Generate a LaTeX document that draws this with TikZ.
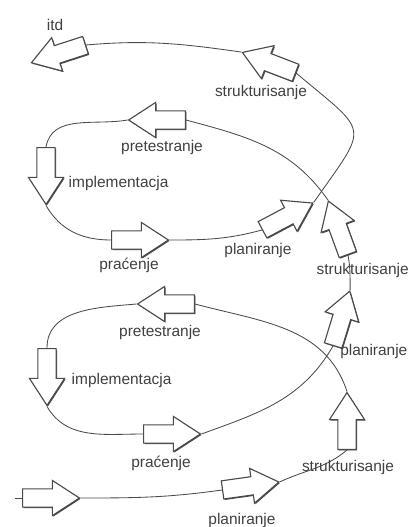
\documentclass[tikz,border=0pt]{standalone}
\usepackage{fontspec}
\setmainfont{Liberation Sans}
\usepackage{tikz}
\usetikzlibrary{positioning}
\usetikzlibrary{shapes.arrows, shadows}
\definecolor{linegray}{HTML}{4A4A4A}
\tikzstyle{blockarrow} = [single arrow, draw=linegray, fill=white, line width=0.8pt, minimum width=0pt, minimum height=0pt, inner xsep=0.52cm, inner ysep=0.215cm, single arrow head extend=0.21cm, single arrow tip angle=66, anchor=tail, drop shadow={shadow xshift=0.7pt, shadow yshift=-0.7pt, fill=linegray, opacity=1}]
\tikzstyle{steplabel} = [text=black!75, font=\fontsize{11}{13}\selectfont, inner sep=1pt]
\tikzstyle{curve} = [draw=linegray, line width=0.6pt]

\begin{document}
\begin{tikzpicture}[x=0.025cm, y=-0.025cm]
\useasboundingbox (0,0) rectangle (408,527);

\node (start) [blockarrow] at (22,498) {};
\node (plan1) [blockarrow, rotate=8] at (222,490) {};
\node (strk1) [blockarrow, rotate=90] at (347,450) {};
\node (pret1) [blockarrow, rotate=180] at (195,304) {};
\node (impl1) [blockarrow, rotate=270] at (47,348) {};
\node (prac1) [blockarrow] at (143,434) {};
\node (plan2) [blockarrow, rotate=73] at (333,346) {};
\node (strk2) [blockarrow, rotate=110] at (348,255) {};
\node (pret2) [blockarrow, rotate=180] at (186,120) {};
\node (impl2) [blockarrow, rotate=270] at (46,147) {};
\node (prac2) [blockarrow] at (111,240) {};
\node (plan3) [blockarrow, rotate=28] at (262,230) {};
\node (strk3) [blockarrow, rotate=159] at (296,73) {};
\node (itd) [blockarrow, rotate=198] at (86,45) {};

\node (itdlbl) [steplabel] at (55,25) {itd};
\node (strk3lbl) [steplabel] at (261,92) {strukturisanje};
\node (pret2lbl) [steplabel] at (162,147) {pretestranje};
\node (impl2lbl) [steplabel, anchor=west] at (67,183) {implementacja};
\node (prac2lbl) [steplabel] at (129,265) {praćenje};
\node (plan3lbl) [steplabel] at (258,250) {planiranje};
\node (strk2lbl) [steplabel, anchor=west] at (315,270) {strukturisanje};
\node (plan2lbl) [steplabel, anchor=west, inner sep=0pt] at (340,351) {planiranje};
\node (pret1lbl) [steplabel] at (160,332) {pretestranje};
\node (impl1lbl) [steplabel, anchor=west] at (70,380) {implementacja};
\node (prac1lbl) [steplabel] at (161,463) {praćenje};
\node (strk1lbl) [steplabel] at (348,467) {strukturisanje};
\node (plan1lbl) [steplabel] at (242,520) {planiranje};

\coordinate (entry) at (15,498);
\draw [curve] (entry) -- (start.tail);
\draw [curve] (start.tip) to[out=0,in=188] (plan1.tail);
\draw [curve] (plan1.tip) to[out=25,in=220] (strk1.tail);
\draw [curve] (strk1.tip) to[out=108,in=-15] (pret1.tail);
\draw [curve] (pret1.tip) to[out=185,in=90] (impl1.tail);
\draw [curve] (impl1.tip) to[out=-60,in=180] (prac1.tail);
\draw [curve] (prac1.tip) to[out=20,in=240] (plan2.tail);
\draw [curve] (plan2.tip) to[out=90,in=-80] (strk2.tail);
\draw [curve] (strk2.tip) to[out=125,in=-15] (pret2.tail);
\draw [curve] (pret2.tip) to[out=190,in=80] (impl2.tail);
\draw [curve] (impl2.tip) to[out=-60,in=180] (prac2.tail);
\draw [curve] (prac2.tip) to[out=0,in=195] (plan3.tail);
\draw [curve] (plan3.tip) to[out=55,in=-40,looseness=1.9] (strk3.tail);
\draw [curve] (strk3.tip) to[out=172,in=5] (itd.tail);

\end{tikzpicture}
\end{document}
